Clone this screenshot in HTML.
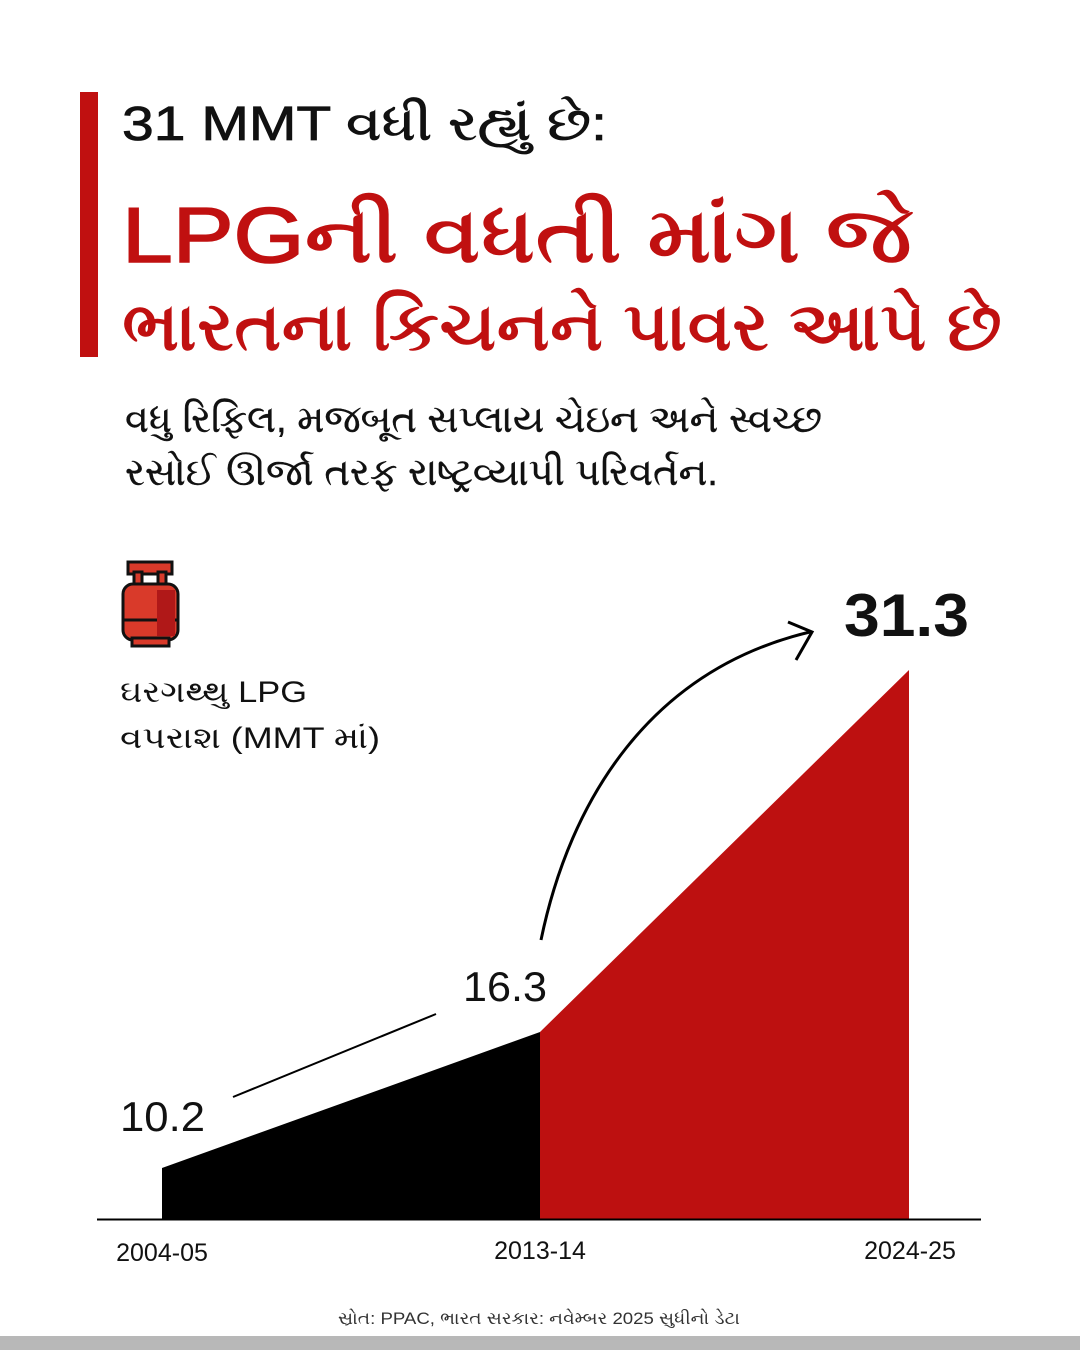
<!DOCTYPE html>
<html><head><meta charset="utf-8"><style>
body{margin:0;background:#fff;}
svg text{font-family:"Liberation Sans","Noto Sans CJK JP",sans-serif;}
</style></head><body>
<svg width="1080" height="1350" viewBox="0 0 1080 1350" xmlns="http://www.w3.org/2000/svg">
<rect width="1080" height="1350" fill="#fff"/>
<rect x="80" y="92" width="18" height="265" fill="#c01010"/>
<text x="122" y="140" font-size="48" fill="#111" stroke="#111" stroke-width="0.8" textLength="485" lengthAdjust="spacingAndGlyphs">31 MMT વધી રહ્યું છે:</text>
<text x="122" y="262" font-size="78" fill="#c01010" stroke="#c01010" stroke-width="1.6" textLength="790" lengthAdjust="spacingAndGlyphs">LPGની વધતી માંગ જે</text>
<text x="122" y="350" font-size="68" fill="#c01010" stroke="#c01010" stroke-width="1.4" textLength="880" lengthAdjust="spacingAndGlyphs">ભારતના કિચનને પાવર આપે છે</text>
<text x="125" y="432" font-size="38" fill="#111" stroke="#111" stroke-width="0.4" textLength="697" lengthAdjust="spacingAndGlyphs">વધુ રિફિલ, મજબૂત સપ્લાય ચેઇન અને સ્વચ્છ</text>
<text x="125" y="485" font-size="38" fill="#111" stroke="#111" stroke-width="0.4" textLength="593" lengthAdjust="spacingAndGlyphs">રસોઈ ઊર્જા તરફ રાષ્ટ્રવ્યાપી પરિવર્તન.</text>
<!-- cylinder -->
<g stroke="#111" stroke-width="3">
<rect x="128" y="562" width="44" height="12" fill="#d93a2a"/>
<rect x="134" y="572" width="8" height="14" fill="#d93a2a"/>
<rect x="158" y="572" width="8" height="14" fill="#d93a2a"/>
<rect x="123" y="584" width="55" height="56" rx="10" fill="#d93a2a"/>
<rect x="132" y="638" width="37" height="8" fill="#d93a2a"/>
<line x1="123" y1="620" x2="178" y2="620"/>
</g>
<rect x="157" y="590" width="18" height="46" fill="#b01818"/>
<text x="120" y="702" font-size="30" fill="#111" textLength="187" lengthAdjust="spacingAndGlyphs">ઘરગથ્થુ LPG</text>
<text x="120" y="748" font-size="30" fill="#111" textLength="260" lengthAdjust="spacingAndGlyphs">વપરાશ (MMT માં)</text>
<!-- chart -->
<polygon points="162,1168 540,1032 540,1219 162,1219" fill="#000"/>
<polygon points="540,1032 909,670 909,1219 540,1219" fill="#bd1010"/>
<line x1="97" y1="1219.5" x2="981" y2="1219.5" stroke="#000" stroke-width="2"/>
<line x1="233" y1="1097" x2="436" y2="1014" stroke="#000" stroke-width="2"/>
<path d="M541,940 C570,800 650,670 810,632" fill="none" stroke="#000" stroke-width="3"/>
<path d="M788,622 L812,632 L796,660" fill="none" stroke="#000" stroke-width="3"/>
<text x="120" y="1131" font-size="42" fill="#111" textLength="85" lengthAdjust="spacingAndGlyphs">10.2</text>
<text x="463" y="1001" font-size="42" fill="#111" textLength="84" lengthAdjust="spacingAndGlyphs">16.3</text>
<text x="844" y="636" font-size="60" font-weight="bold" fill="#111" textLength="125" lengthAdjust="spacingAndGlyphs">31.3</text>
<text x="162" y="1261" font-size="25" fill="#111" text-anchor="middle">2004-05</text>
<text x="540" y="1259" font-size="25" fill="#111" text-anchor="middle">2013-14</text>
<text x="910" y="1259" font-size="25" fill="#111" text-anchor="middle">2024-25</text>
<text x="338" y="1324" font-size="17" fill="#333" textLength="402" lengthAdjust="spacingAndGlyphs">સ્રોત: PPAC, ભારત સરકાર: નવેમ્બર 2025 સુધીનો ડેટા</text>
<rect x="0" y="1336" width="1080" height="14" fill="#b8b8b8"/>
</svg>
</body></html>
